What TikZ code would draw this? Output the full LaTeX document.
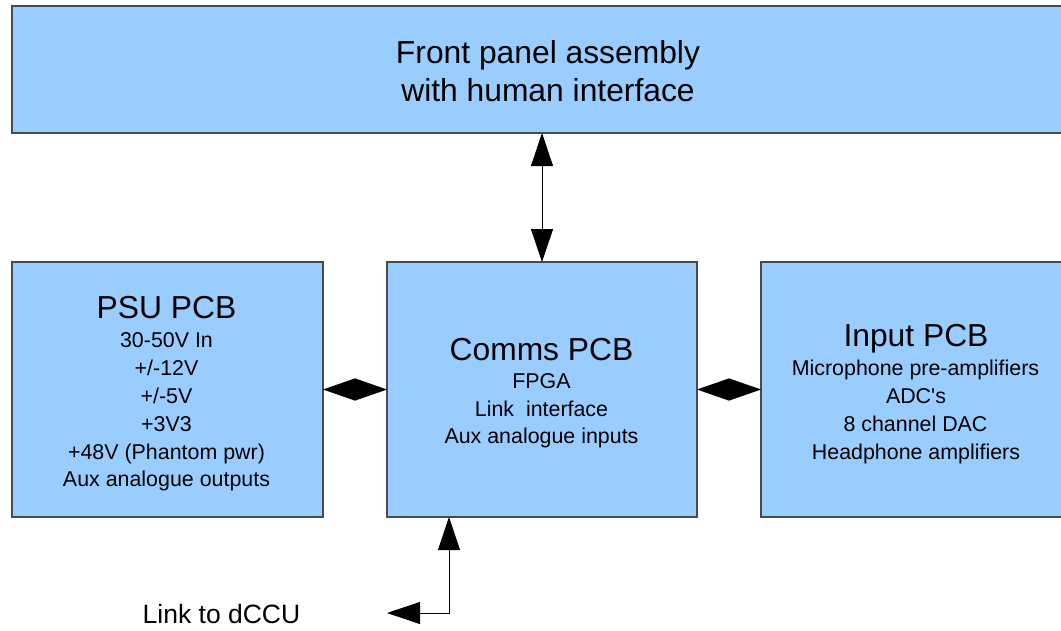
\documentclass[tikz,border=0pt]{standalone}
\usepackage{fontspec}
\setmainfont{Liberation Sans}
\usetikzlibrary{arrows.meta,calc}
\definecolor{boxfill}{HTML}{99CCFF}
\definecolor{boxline}{HTML}{4A4A4A}
\newcommand{\fstop}{\fontsize{31.8}{36}\selectfont}
\newcommand{\fstitle}{\fontsize{31.8}{36}\selectfont}
\newcommand{\fssmall}{\fontsize{21.4}{25}\selectfont}
\newcommand{\fslink}{\fontsize{26.5}{30}\selectfont}
\tikzset{
  pcbbox/.style={draw=boxline, fill=boxfill, line width=1.2pt, inner sep=0pt, outer sep=0pt, anchor=north west},
  txt/.style={anchor=base, inner sep=0pt, text=black},
  bigtip/.tip={Triangle[length=33pt,width=22pt]},
  shorttip/.tip={Triangle[length=32pt,width=22pt]},
  conn/.style={draw=black, line width=0.8pt},
}
\begin{document}
\begin{tikzpicture}[x=1pt,y=-1pt]
\useasboundingbox (0,0) rectangle (1061,630);
\clip (0,0) rectangle (1061,630);
\fill[white] (0,0) rectangle (1061,630);
% boxes
\node[pcbbox, minimum width=1073pt, minimum height=127pt] (top) at (12,6) {};
\node[pcbbox, minimum width=311pt, minimum height=255pt] (psu) at (12,262) {};
\node[pcbbox, minimum width=310pt, minimum height=255pt] (comms) at (387,262) {};
\node[pcbbox, minimum width=310pt, minimum height=255pt] (input) at (761,262) {};
% top text
\node[txt, font=\fstop] (top1) at (548,63) {Front panel assembly};
\node[txt, font=\fstop] (top2) at (548,101) {with human interface};
% PSU text
\node[txt, font=\fstitle] (psut) at (166.5,318) {PSU PCB};
\node[txt, font=\fssmall] (psu1) at (166.5,347) {30-50V In};
\node[txt, font=\fssmall] (psu2) at (166.5,375) {+/-12V};
\node[txt, font=\fssmall] (psu3) at (166.5,403) {+/-5V};
\node[txt, font=\fssmall] (psu4) at (166.5,431) {+3V3};
\node[txt, font=\fssmall] (psu5) at (166.5,459) {+48V (Phantom pwr)};
\node[txt, font=\fssmall] (psu6) at (166.5,486) {Aux analogue outputs};
% Comms text
\node[txt, font=\fstitle] (commst) at (541.5,360) {Comms PCB};
\node[txt, font=\fssmall] (comms1) at (541.5,388) {FPGA};
\node[txt, font=\fssmall] (comms2) at (541.5,416) {Link\ \ interface};
\node[txt, font=\fssmall] (comms3) at (541.5,443) {Aux analogue inputs};
% Input text
\node[txt, font=\fstitle] (inputt) at (916,346) {Input PCB};
\node[txt, font=\fssmall] (input1) at (915.5,375) {Microphone pre-amplifiers};
\node[txt, font=\fssmall] (input2) at (916,403) {ADC\textquotesingle s};
\node[txt, font=\fssmall] (input3) at (915.5,431) {8 channel DAC};
\node[txt, font=\fssmall] (input4) at (916,459) {Headphone amplifiers};
% link label
\node[txt, font=\fslink] (dccu) at (221.5,623) {Link to dCCU};
% connectors
\draw[conn, bigtip-bigtip] (comms.north |- top.south) -- (comms.north);
\draw[conn, shorttip-shorttip] (psu.east) -- (comms.west);
\draw[conn, shorttip-shorttip] (comms.east) -- (input.west);
\coordinate (corner) at (449,613);
\coordinate (dccuend) at (387,613);
\draw[conn, bigtip-bigtip] (comms.south -| corner) |- (dccuend);
\end{tikzpicture}
\end{document}
